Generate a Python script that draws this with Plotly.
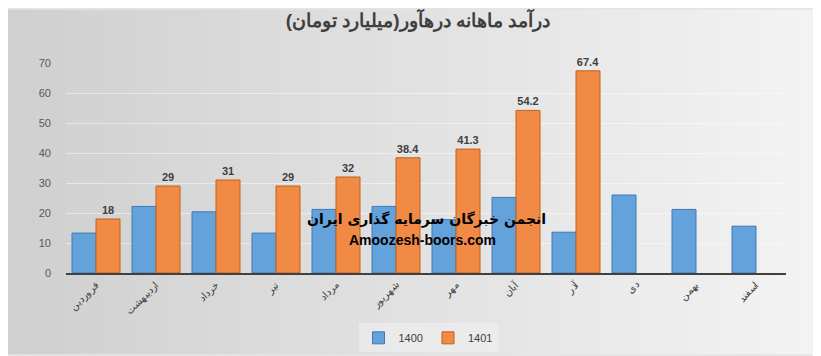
import plotly.graph_objects as go

months = ["فروردین", "اردیبهشت", "خرداد", "تیر", "مرداد", "شهریور",
          "مهر", "آبان", "آذر", "دی", "بهمن", "اسفند"]
rev_1400 = [13.3, 22.2, 20.4, 13.3, 21.2, 22.2, 17.8, 25.2, 13.6, 26.0, 21.2, 15.6]
rev_1401 = [18, 29, 31, 29, 32, 38.4, 41.3, 54.2, 67.4, None, None, None]
labels_1401 = ["18", "29", "31", "29", "32", "38.4", "41.3", "54.2", "67.4", "", "", ""]
y_ticks = [0, 10, 20, 30, 40, 50, 60, 70]

W, H = 821, 356
ml, mr, mt, mb = 58, 43, 55, 84
pw, ph = W - ml - mr, H - mt - mb

fig = go.Figure()
fig.add_trace(go.Bar(
    x=months, y=rev_1400, name="1400",
    marker=dict(color="#64a2dc", line=dict(color="#3f78b2", width=1)),
))
fig.add_trace(go.Bar(
    x=months, y=rev_1401, name="1401",
    marker=dict(color="#f08a45", line=dict(color="#c0601e", width=1)),
    text=labels_1401, textposition="outside", cliponaxis=False,
    textfont=dict(family="Liberation Sans, Arial", size=11, color="#404040"),
    texttemplate="<b>%{text}</b>",
))

# gradient background via strips
shapes = []
n = 60
x_left = -ml / pw
x_right = 1 + mr / pw
y_bot = -mb / ph
y_top = 1 + mt / ph
c0 = (208, 208, 208)
c1 = (244, 244, 244)
for i in range(n):
    t = i / (n - 1)
    c = tuple(int(c0[k] + (c1[k] - c0[k]) * t) for k in range(3))
    xa = x_left + (x_right - x_left) * i / n
    xb = x_left + (x_right - x_left) * (i + 1) / n + 0.002
    shapes.append(dict(type="rect", xref="paper", yref="paper", x0=xa, x1=xb,
                       y0=y_bot, y1=y_top, fillcolor="rgb(%d,%d,%d)" % c,
                       line=dict(width=0), layer="below"))

fig.update_layout(
    width=W, height=H,
    margin=dict(l=ml, r=mr, t=mt, b=mb),
    paper_bgcolor="#e4e4e4",
    plot_bgcolor="rgba(0,0,0,0)",
    shapes=shapes,
    barmode="group", bargap=0.2, bargroupgap=0.0,
    font=dict(family="Liberation Sans, Arial", color="#595959"),
    title=dict(text="<b>درآمد ماهانه درهآور(میلیارد تومان)</b>",
               x=410 / W, xanchor="center", y=1 - 12 / H, yanchor="middle",
               font=dict(size=19, color="#404040")),
    xaxis=dict(tickangle=-45, tickfont=dict(size=10, color="#404040"),
               showline=True, linecolor="#404040", linewidth=2,
               showgrid=False, ticks=""),
    yaxis=dict(range=[0, 70], tickvals=y_ticks, tickfont=dict(size=11, color="#595959"),
               showgrid=True, gridcolor="rgba(255,255,255,0.45)", gridwidth=1,
               zeroline=False, showline=False, ticklabelstandoff=14),
    legend=dict(orientation="h", x=(420 - ml) / pw, xanchor="center", y=-(339 - 272) / ph,
                yanchor="middle", font=dict(size=11, color="#404040"),
                itemwidth=30, tracegroupgap=0,
                bgcolor="rgba(240,240,240,0.6)", bordercolor="rgba(0,0,0,0)"),
    annotations=[
        dict(text="<b>انجمن خبرگان سرمایه گذاری ایران</b>", xref="paper", yref="paper",
             x=(418 - ml) / pw, y=(272 - 228) / ph, showarrow=False,
             font=dict(size=14, color="#000000", family="DejaVu Sans")),
        dict(text="<b>Amoozesh-boors.com</b>", xref="paper", yref="paper",
             x=(414 - ml) / pw, y=(272 - 248) / ph, showarrow=False,
             font=dict(size=14, color="#000000", family="Liberation Sans, Arial")),
    ],
)

fig.write_html("out.html")
